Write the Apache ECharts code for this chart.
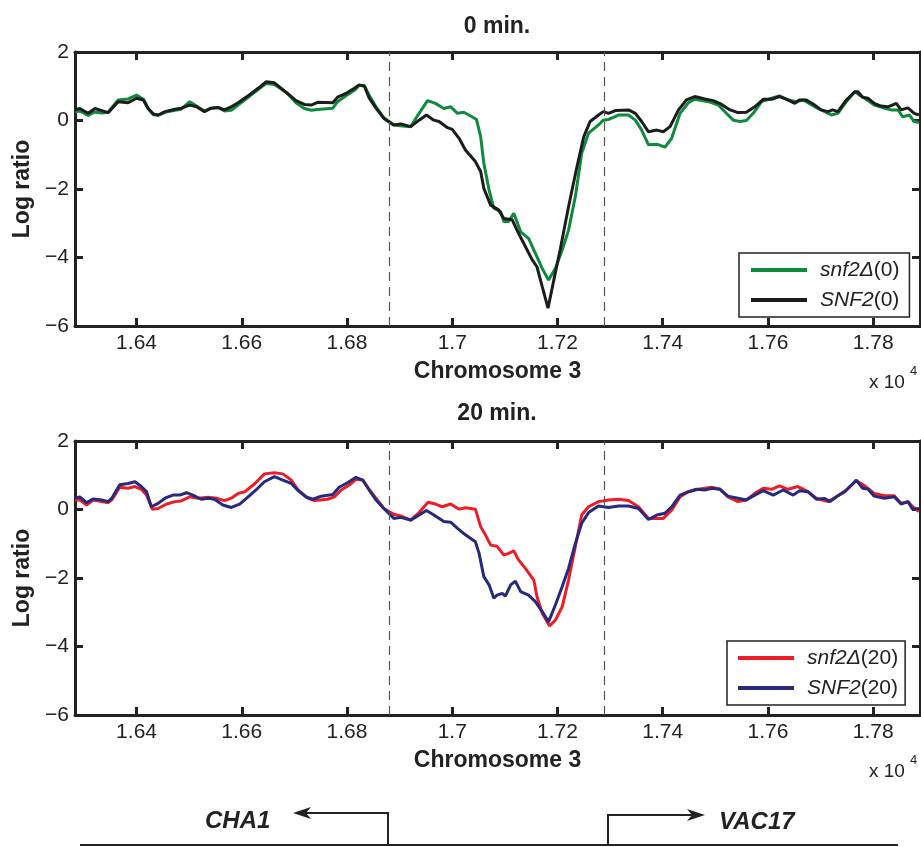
<!DOCTYPE html>
<html><head><meta charset="utf-8">
<script src="https://cdn.jsdelivr.net/npm/echarts@6/dist/echarts.min.js"></script>
<style>html,body{margin:0;padding:0;background:#fff}#c{width:921px;height:847px}</style>
</head><body><div id="c"></div>
<script>
// ---------- data (x in units of 10^4, y = log ratio) ----------
const snf2d0_x = [1.6283,1.6292,1.6308,1.6321,1.6334,1.6346,1.6365,1.6384,1.6400,1.6413,
1.6422,1.6432,1.6441,1.6454,1.6473,1.6485,1.6501,1.6514,1.6529,1.6542,
1.6555,1.6567,1.6580,1.6593,1.6612,1.6631,1.6646,1.6662,1.6675,1.6687,
1.6703,1.6719,1.6732,1.6744,1.6773,1.6782,1.6798,1.6814,1.6823,1.6833,
1.6842,1.6855,1.6870,1.6889,1.6905,1.6921,1.6937,1.6953,1.6968,1.6984,
1.6997,1.7010,1.7022,1.7035,1.7046,1.7054,1.7060,1.7070,1.7079,1.7092,
1.7098,1.7107,1.7117,1.7130,1.7145,1.7158,1.7171,1.7183,1.7196,1.7209,
1.7221,1.7234,1.7246,1.7259,1.7278,
1.7287,1.7297,1.7316,1.7335,1.7348,1.7360,1.7373,1.7389,1.7404,1.7417,
1.7433,1.7449,1.7461,1.7487,1.7506,1.7521,1.7534,1.7547,1.7559,1.7572,
1.7588,1.7607,1.7622,1.7638,1.7654,1.7667,1.7689,1.7708,1.7721,1.7733,
1.7749,1.7765,1.7774,1.7784,1.7802,1.7821,1.7834,1.7847,1.7856,1.7869,
1.7878,1.7887];
const snf2d0_y = [0.25,0.28,0.15,0.25,0.22,0.24,0.60,0.63,0.74,0.62,
0.35,0.17,0.15,0.24,0.30,0.33,0.55,0.42,0.28,0.36,
0.38,0.28,0.30,0.45,0.68,0.90,1.08,1.05,0.92,0.78,
0.52,0.35,0.30,0.32,0.36,0.55,0.72,0.88,1.02,1.02,
0.74,0.40,0.08,-0.13,-0.16,-0.18,0.21,0.58,0.50,0.35,
0.40,0.21,0.24,0.13,0.03,-0.47,-1.25,-2.03,-2.56,-2.66,
-2.95,-2.95,-2.71,-3.25,-3.44,-3.88,-4.32,-4.66,-4.32,-3.78,
-3.20,-2.22,-0.96,-0.37,-0.13,
0.01,0.03,0.16,0.16,0.01,-0.28,-0.71,-0.69,-0.78,-0.52,
0.21,0.52,0.62,0.55,0.45,0.21,0.01,-0.03,0.00,0.21,
0.55,0.65,0.72,0.60,0.55,0.60,0.40,0.26,0.16,0.21,
0.55,0.84,0.74,0.65,0.45,0.36,0.31,0.31,0.11,0.16,
-0.03,-0.06];

const SNF2_0_x = [1.6283,1.6292,1.6308,1.6321,1.6334,1.6346,1.6365,1.6384,1.6400,1.6413,
1.6422,1.6432,1.6441,1.6454,1.6473,1.6485,1.6501,1.6514,1.6529,1.6542,
1.6555,1.6567,1.6580,1.6593,1.6612,1.6631,1.6646,1.6662,1.6675,1.6687,
1.6703,1.6719,1.6732,1.6744,1.6773,1.6782,1.6798,1.6814,1.6823,1.6833,
1.6842,1.6855,1.6870,1.6889,1.6902,1.6921,1.6937,1.6951,1.6965,1.6975,
1.6991,1.7000,1.7013,1.7025,1.7044,1.7054,1.7060,1.7073,1.7088,1.7098,
1.7114,1.7123,1.7136,1.7152,1.7161,1.7171,1.7182,1.7193,1.7205,1.7221,
1.7237,1.7250,1.7262,1.7278,1.7287,1.7297,1.7310,1.7335,1.7348,1.7360,
1.7373,1.7389,1.7401,1.7414,1.7430,1.7445,1.7461,1.7480,1.7496,1.7512,
1.7528,1.7543,1.7559,1.7575,1.7591,1.7607,1.7622,1.7638,1.7651,1.7660,
1.7673,1.7689,1.7701,1.7714,1.7723,1.7733,1.7749,1.7765,1.7771,1.7780,
1.7790,1.7802,1.7815,1.7828,1.7844,1.7853,1.7866,1.7878,1.7887];
const SNF2_0_y = [0.31,0.35,0.21,0.35,0.29,0.23,0.55,0.52,0.65,0.60,
0.35,0.19,0.16,0.26,0.33,0.36,0.45,0.40,0.26,0.36,
0.38,0.31,0.40,0.52,0.72,0.94,1.13,1.10,0.94,0.79,
0.58,0.47,0.45,0.53,0.52,0.68,0.79,0.94,1.04,1.00,
0.66,0.36,0.06,-0.13,-0.10,-0.18,0.01,0.16,0.01,-0.03,
-0.21,-0.26,-0.52,-0.86,-1.20,-1.49,-1.98,-2.47,-2.61,-2.86,
-2.90,-3.20,-3.59,-4.07,-4.27,-4.85,-5.48,-4.66,-3.78,-2.52,
-1.35,-0.47,-0.03,0.16,0.26,0.21,0.29,0.31,0.21,-0.03,
-0.33,-0.28,-0.33,-0.18,0.31,0.60,0.70,0.63,0.58,0.47,
0.31,0.23,0.24,0.40,0.62,0.62,0.70,0.60,0.50,0.60,
0.60,0.45,0.31,0.26,0.31,0.26,0.60,0.84,0.84,0.68,
0.65,0.50,0.42,0.40,0.50,0.31,0.37,0.21,0.16];

const snf2d20_x = [1.6283,1.6292,1.6305,1.6318,1.6334,1.6346,1.6353,1.6368,1.6384,1.6397,
1.6409,1.6419,1.6430,1.6441,1.6457,1.6473,1.6485,1.6501,1.6517,1.6536,
1.6552,1.6567,1.6580,1.6593,1.6606,1.6625,1.6643,1.6662,1.6678,1.6694,
1.6706,1.6725,1.6738,1.6763,1.6776,1.6789,1.6805,1.6817,1.6830,
1.6842,1.6855,1.6870,1.6889,1.6902,1.6921,1.6937,1.6954,1.6968,1.6981,
1.6997,1.7013,1.7025,1.7044,1.7054,1.7063,1.7073,1.7085,1.7098,1.7107,
1.7117,1.7126,1.7139,1.7155,1.7161,1.7171,1.7185,1.7196,1.7209,1.7221,
1.7234,1.7246,1.7259,1.7278,
1.7297,1.7316,1.7335,1.7354,1.7373,1.7389,1.7401,1.7417,1.7433,1.7449,
1.7468,1.7493,1.7509,1.7524,1.7543,1.7559,1.7575,1.7591,1.7607,1.7622,
1.7638,1.7657,1.7676,1.7692,1.7714,1.7730,1.7749,1.7768,1.7784,1.7802,
1.7821,1.7840,1.7853,1.7866,1.7875,1.7887];
const snf2d20_y = [0.28,0.28,0.13,0.28,0.23,0.20,0.28,0.65,0.62,0.67,
0.59,0.42,0.01,0.03,0.16,0.23,0.25,0.37,0.33,0.36,
0.33,0.26,0.33,0.47,0.52,0.76,1.04,1.07,1.04,0.86,
0.59,0.33,0.26,0.30,0.37,0.57,0.72,0.88,0.86,
0.59,0.33,0.03,-0.14,-0.19,-0.31,-0.09,0.21,0.16,0.08,
0.16,0.01,0.05,0.01,-0.50,-0.74,-1.04,-1.07,-1.33,-1.28,
-1.21,-1.47,-1.72,-2.06,-2.54,-3.03,-3.40,-3.23,-2.84,-2.06,
-1.08,-0.16,0.08,0.23,
0.28,0.30,0.26,0.08,-0.26,-0.26,-0.26,-0.02,0.37,0.52,
0.59,0.65,0.59,0.37,0.23,0.28,0.47,0.62,0.59,0.69,
0.59,0.67,0.52,0.33,0.23,0.37,0.57,0.84,0.69,0.47,
0.40,0.40,0.18,0.23,0.08,-0.06];

const SNF2_20_x = [1.6283,1.6292,1.6305,1.6318,1.6334,1.6346,1.6353,1.6368,1.6384,1.6397,
1.6409,1.6419,1.6428,1.6441,1.6454,1.6469,1.6482,1.6495,1.6507,1.6523,
1.6536,1.6548,1.6564,1.6580,1.6596,1.6612,1.6627,1.6643,1.6662,1.6678,
1.6694,1.6706,1.6722,1.6735,1.6751,1.6773,1.6785,1.6801,1.6817,1.6830,
1.6842,1.6855,1.6870,1.6889,1.6902,1.6921,1.6937,1.6951,1.6965,1.6984,
1.6997,1.7010,1.7025,1.7044,1.7051,1.7060,1.7070,1.7079,1.7085,1.7095,
1.7101,1.7111,1.7120,1.7130,1.7145,1.7158,1.7171,1.7183,1.7196,1.7209,
1.7221,1.7234,1.7246,1.7259,1.7278,
1.7297,1.7316,1.7335,1.7354,1.7373,1.7389,1.7404,1.7417,1.7433,1.7449,
1.7464,1.7480,1.7493,1.7509,1.7524,1.7543,1.7559,1.7575,1.7591,1.7610,
1.7629,1.7648,1.7660,1.7676,1.7692,1.7708,1.7718,1.7730,1.7746,1.7768,
1.7780,1.7790,1.7802,1.7821,1.7840,1.7853,1.7866,1.7875,1.7887];
const SNF2_20_y = [0.33,0.37,0.20,0.31,0.28,0.23,0.33,0.72,0.76,0.81,
0.67,0.52,0.08,0.18,0.33,0.42,0.42,0.49,0.42,0.30,
0.33,0.30,0.13,0.06,0.16,0.37,0.57,0.81,0.96,0.86,
0.76,0.57,0.37,0.30,0.39,0.44,0.65,0.78,0.94,0.86,
0.57,0.28,0.03,-0.26,-0.23,-0.31,-0.16,-0.03,-0.16,-0.35,
-0.37,-0.55,-0.74,-0.94,-1.28,-1.96,-2.20,-2.59,-2.50,-2.45,
-2.53,-2.20,-2.09,-2.40,-2.50,-2.69,-2.98,-3.28,-2.79,-2.25,
-1.72,-0.99,-0.40,-0.09,0.10,
0.06,0.10,0.10,0.03,-0.29,-0.16,-0.11,0.08,0.42,0.52,
0.59,0.57,0.62,0.59,0.39,0.33,0.28,0.42,0.55,0.42,
0.57,0.42,0.55,0.52,0.30,0.32,0.23,0.37,0.52,0.86,
0.62,0.60,0.39,0.33,0.37,0.16,0.23,0.005,0.03];

const xRange = [1.6283, 1.7889];
const xTicks = [1.64, 1.66, 1.68, 1.7, 1.72, 1.74, 1.76, 1.78];
const yRange = [-6, 2];
const yStep = 2;
const boundaries = [1.6881, 1.7289];
const panelTitles = ['0 min.', '20 min.'];
const xAxisTitle = 'Chromosome 3';
const yAxisTitle = 'Log ratio';

// ---------- chart ----------
const FONT = '"Liberation Sans", Arial, Helvetica, sans-serif';
const INK = '#222';
const zip = (xs, ys) => xs.map((x, i) => [x, ys[i]]);
const chart = echarts.init(document.getElementById('c'));

const frameLine = { show: true, onZero: false, lineStyle: { color: INK, width: 3 } };
const tickX = { show: true, inside: true, length: 8, customValues: xTicks, lineStyle: { color: INK, width: 3 } };
const tickY = { show: true, inside: true, length: 8, lineStyle: { color: INK, width: 3 } };
const fmtY = v => (v < 0 ? '\u2212' + (-v) : String(v));

const xAxis = [], yAxis = [];
[0, 1].forEach(g => {
  xAxis.push({
    type: 'value', gridIndex: g, position: 'bottom', min: xRange[0], max: xRange[1],
    axisLine: frameLine, axisTick: tickX, splitLine: { show: false },
    axisLabel: { customValues: xTicks, margin: 7, color: INK, fontSize: 21, fontFamily: FONT, formatter: v => String(v) },
    name: xAxisTitle, nameLocation: 'middle', nameGap: 34,
    nameTextStyle: { fontSize: 23, fontWeight: 'bold', color: INK, fontFamily: FONT }
  });
  xAxis.push({
    type: 'value', gridIndex: g, position: 'top', min: xRange[0], max: xRange[1],
    axisLine: frameLine, axisTick: tickX, axisLabel: { show: false }, splitLine: { show: false }
  });
  yAxis.push({
    type: 'value', gridIndex: g, position: 'left', min: yRange[0], max: yRange[1], interval: yStep,
    axisLine: frameLine, axisTick: tickY, splitLine: { show: false },
    axisLabel: { margin: 6, color: INK, fontSize: 21, fontFamily: FONT, formatter: fmtY },
    name: yAxisTitle, nameLocation: 'middle', nameGap: 40,
    nameTextStyle: { fontSize: 23, fontWeight: 'bold', color: INK, fontFamily: FONT }
  });
  yAxis.push({
    type: 'value', gridIndex: g, position: 'right', min: yRange[0], max: yRange[1], interval: yStep,
    axisLine: frameLine, axisTick: tickY, axisLabel: { show: false }, splitLine: { show: false }
  });
});

const markLine = {
  silent: true, symbol: 'none', animation: false, precision: 6,
  label: { show: false },
  lineStyle: { type: [9, 6], color: '#555', width: 1.2 },
  data: boundaries.map(b => ({ xAxis: b }))
};

function line(name, data, color, g, withMark) {
  const s = {
    type: 'line', name, data, xAxisIndex: g * 2, yAxisIndex: g * 2,
    showSymbol: false, symbol: 'none', color,
    lineStyle: { color, width: 3 }, animation: false, z: 3
  };
  if (withMark) s.markLine = markLine;
  return s;
}

const legendBase = {
  orient: 'vertical', icon: 'rect', itemWidth: 56, itemHeight: 4, itemGap: 6,
  borderColor: INK, borderWidth: 1.5, backgroundColor: '#fff', selectedMode: false,
  formatter: n => n.replace(/^([^()]+)(\(.*\))$/, '{i|$1}{n|$2}'),
  textStyle: {
    color: INK, fontSize: 21, fontFamily: FONT, lineHeight: 24,
    rich: {
      i: { fontStyle: 'italic', fontSize: 21, fontFamily: FONT, color: INK, padding: [0, 0, 0, 8], lineHeight: 24 },
      n: { fontSize: 21, fontFamily: FONT, color: INK, lineHeight: 24 }
    }
  }
};

const titleStyle = { fontSize: 23, fontWeight: 'bold', color: INK, fontFamily: FONT };

const option = {
  backgroundColor: '#fff',
  animation: false,
  title: [
    { text: panelTitles[0], left: 497, top: 15, textAlign: 'center', padding: 0, textStyle: titleStyle },
    { text: panelTitles[1], left: 497, top: 402, textAlign: 'center', padding: 0, textStyle: titleStyle }
  ],
  grid: [
    { left: 75, top: 52, width: 845, height: 274 },
    { left: 75, top: 441, width: 845, height: 274 }
  ],
  xAxis, yAxis,
  legend: [
    Object.assign({}, legendBase, { left: 739, top: 253, padding: [5, 10, 5, 12], data: ['snf2Δ(0)', 'SNF2(0)'] }),
    Object.assign({}, legendBase, { left: 727, top: 641, padding: [5, 7, 5, 11], data: ['snf2Δ(20)', 'SNF2(20)'] })
  ],
  series: [
    line('snf2Δ(0)', zip(snf2d0_x, snf2d0_y), '#0f8a3c', 0, true),
    line('SNF2(0)', zip(SNF2_0_x, SNF2_0_y), '#1c1c1c', 0, false),
    line('snf2Δ(20)', zip(snf2d20_x, snf2d20_y), '#ee1d25', 1, true),
    line('SNF2(20)', zip(SNF2_20_x, SNF2_20_y), '#262a7e', 1, false)
  ],
  graphic: [
    { type: 'text', left: 869, top: 373, style: { text: 'x 10', fontSize: 19, fontFamily: FONT, fill: INK } },
    { type: 'text', left: 910, top: 365, style: { text: '4', fontSize: 13, fontFamily: FONT, fill: INK } },
    { type: 'text', left: 869, top: 762, style: { text: 'x 10', fontSize: 19, fontFamily: FONT, fill: INK } },
    { type: 'text', left: 910, top: 754, style: { text: '4', fontSize: 13, fontFamily: FONT, fill: INK } },
    // gene schematic
    { type: 'polyline', shape: { points: [[80, 845], [898, 845]] }, style: { stroke: INK, lineWidth: 2, fill: null } },
    { type: 'polyline', shape: { points: [[388, 845], [388, 813], [302, 813]] }, style: { stroke: INK, lineWidth: 2, fill: null } },
    { type: 'polygon', shape: { points: [[293, 813], [311, 807], [306, 813], [311, 819]] }, style: { fill: INK } },
    { type: 'polyline', shape: { points: [[608, 845], [608, 815], [696, 815]] }, style: { stroke: INK, lineWidth: 2, fill: null } },
    { type: 'polygon', shape: { points: [[705, 815], [687, 809], [692, 815], [687, 821]] }, style: { fill: INK } },
    { type: 'text', left: 205, top: 809, style: { text: 'CHA1', fontSize: 24, fontWeight: 'bold', fontStyle: 'italic', fontFamily: FONT, fill: INK } },
    { type: 'text', left: 719, top: 810, style: { text: 'VAC17', fontSize: 24, fontWeight: 'bold', fontStyle: 'italic', fontFamily: FONT, fill: INK } }
  ]
};
chart.setOption(option);
</script>
</body></html>
